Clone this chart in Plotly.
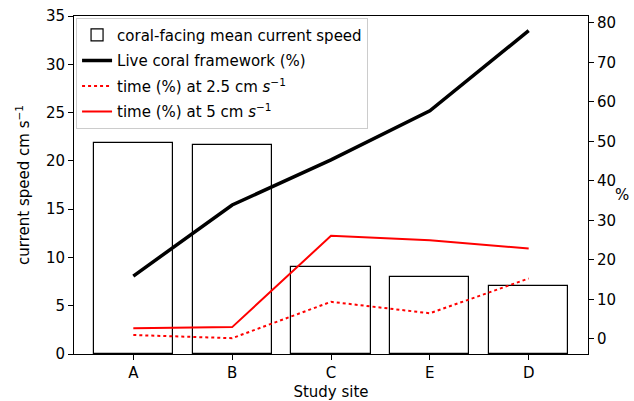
import plotly.graph_objects as go

sites = ["A", "B", "C", "E", "D"]
current_speed = [21.9, 21.6, 9.0, 8.0, 7.0]
live_coral = [15.9, 33.9, 45.3, 57.7, 78.0]
time_2_5 = [1.0, 0.2, 9.4, 6.5, 15.3]
time_5 = [2.7, 3.0, 26.1, 25.0, 22.9]

FONT = "DejaVu Sans"
FS = 15
fig = go.Figure()

fig.add_trace(go.Bar(
    x=sites, y=current_speed, width=0.8,
    marker=dict(color="white", line=dict(color="black", width=1.2)),
    name="coral-facing mean current speed", yaxis="y", legendgroup="g1",
))
fig.add_trace(go.Scatter(
    x=sites, y=live_coral, mode="lines",
    line=dict(color="black", width=3.5),
    name="Live coral framework (%)", yaxis="y2", legendgroup="g2",
))
fig.add_trace(go.Scatter(
    x=sites, y=time_2_5, mode="lines",
    line=dict(color="red", width=2, dash="dot"),
    name="time (%) at 2.5 cm <i>s</i><sup>−1</sup>", yaxis="y2", legendgroup="g3",
))
fig.add_trace(go.Scatter(
    x=sites, y=time_5, mode="lines",
    line=dict(color="red", width=2),
    name="time (%) at 5 cm <i>s</i><sup>−1</sup>", yaxis="y2", legendgroup="g4",
))

axis_common = dict(
    showgrid=False, zeroline=False, showline=True, linecolor="black", linewidth=1,
    ticks="outside", ticklen=5, tickcolor="black", automargin=False,
    tickfont=dict(family=FONT, size=FS, color="black"),
)

fig.update_layout(
    width=634, height=401,
    margin=dict(l=74, r=46, t=16, b=47),
    paper_bgcolor="white", plot_bgcolor="white",
    font=dict(family=FONT, size=FS, color="black"),
    bargap=0,
    xaxis=dict(
        **axis_common, mirror=True,
        type="category", categoryorder="array", categoryarray=sites,
        range=[-0.6, 4.6],
        title=dict(text="Study site", font=dict(family=FONT, size=FS), standoff=5),
    ),
    yaxis=dict(
        **axis_common,
        range=[0, 35], dtick=5,
        title=dict(text="current speed cm s<sup>−1</sup>", font=dict(family=FONT, size=FS), standoff=12),
    ),
    yaxis2=dict(
        **axis_common,
        overlaying="y", side="right",
        range=[-3.8, 81.7], dtick=10,
    ),
    legend=dict(
        x=0.004, y=0.995, xanchor="left", yanchor="top",
        bgcolor="rgba(255,255,255,0.8)", bordercolor="#cccccc", borderwidth=1,
        font=dict(family=FONT, size=FS), tracegroupgap=3, itemwidth=30,
    ),
    showlegend=True,
)

fig.add_annotation(
    text="%", xref="paper", yref="paper", x=1.083, y=0.47,
    showarrow=False, font=dict(family=FONT, size=FS, color="black"),
)

fig.write_html("out.html")
